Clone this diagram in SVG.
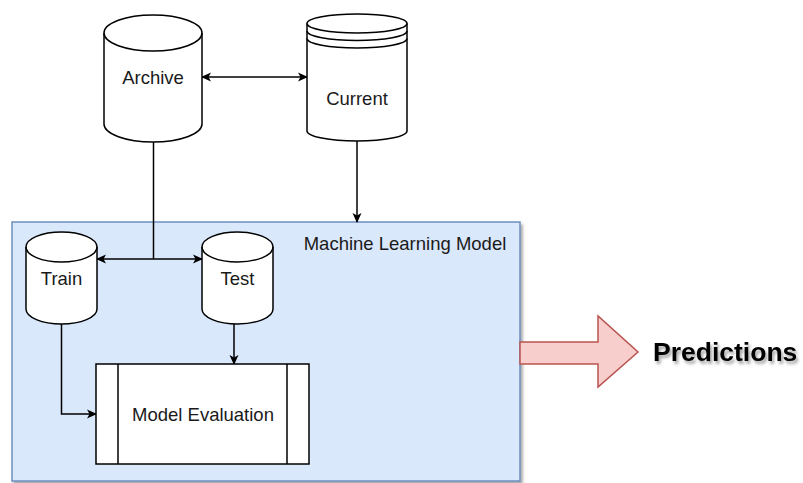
<svg xmlns="http://www.w3.org/2000/svg" width="803" height="483" viewBox="0 0 803 483">
  <defs>
    <style>
      .shape { fill: #ffffff; stroke: #000000; stroke-width: 1.5; }
      .edge { fill: none; stroke: #000000; stroke-width: 1.5; }
      .lbl { font-family: "Liberation Sans", Arial, sans-serif; font-size: 18.5px; fill: #1a1a1a; text-anchor: middle; dominant-baseline: central; }
      .big { font-family: "Liberation Sans", Arial, sans-serif; font-size: 26.5px; font-weight: bold; fill: #000000; }
    </style>
    <marker id="arrow" viewBox="0 0 10 10" refX="9" refY="5" markerWidth="10" markerHeight="10" markerUnits="userSpaceOnUse" orient="auto-start-reverse">
      <path d="M0,0.5 L10,5 L0,9.5 L2.5,5 Z" fill="#000000"/>
    </marker>
    <filter id="shadow" x="-10%" y="-10%" width="130%" height="140%">
      <feGaussianBlur in="SourceAlpha" stdDeviation="1.5"/>
      <feOffset dx="2" dy="3" result="b"/>
      <feComponentTransfer><feFuncA type="linear" slope="0.35"/></feComponentTransfer>
      <feMerge><feMergeNode/><feMergeNode in="SourceGraphic"/></feMerge>
    </filter>
  </defs>
  <rect width="803" height="483" fill="#ffffff"/>

  <!-- container -->
  <g id="ml-model">
    <rect x="12" y="222" width="508" height="259" fill="#dae8fc" stroke="#6c8ebf" stroke-width="1.5" filter="url(#shadow)"/>
    <text x="405" y="243" class="lbl">Machine Learning Model</text>
  </g>

  <!-- connectors -->
  <g id="connectors">
    <line x1="202" y1="77" x2="307" y2="77" class="edge" marker-start="url(#arrow)" marker-end="url(#arrow)"/>
    <line x1="357" y1="141" x2="357" y2="222" class="edge" marker-end="url(#arrow)"/>
    <line x1="153.5" y1="142" x2="153.5" y2="259" class="edge"/>
    <line x1="97" y1="259" x2="202" y2="259" class="edge" marker-start="url(#arrow)" marker-end="url(#arrow)"/>
    <polyline points="61.5,324 61.5,414 96,414" class="edge" marker-end="url(#arrow)"/>
    <line x1="234" y1="324" x2="234" y2="364" class="edge" marker-end="url(#arrow)"/>
  </g>

  <!-- Archive -->
  <g id="archive">
    <path class="shape" d="M104,33 A49,18 0 0 1 202,33 L202,124 A49,18 0 0 1 104,124 Z"/>
    <path class="shape" style="fill:none" d="M104,33 A49,18 0 0 0 202,33"/>
    <text x="153" y="77" class="lbl">Archive</text>
  </g>

  <!-- Current -->
  <g id="current">
    <path class="shape" d="M307,23.5 A50,9.5 0 0 1 407,23.5 L407,131 A50,10 0 0 1 307,131 Z"/>
    <path class="shape" style="fill:none" d="M307,23.5 A50,9.5 0 0 0 407,23.5 M307,31 A50,9.5 0 0 0 407,31 M307,38.5 A50,9.5 0 0 0 407,38.5"/>
    <text x="357" y="98" class="lbl">Current</text>
  </g>

  <!-- Train -->
  <g id="train">
    <path class="shape" d="M26,247 A35.5,15 0 0 1 97,247 L97,309 A35.5,15 0 0 1 26,309 Z"/>
    <path class="shape" style="fill:none" d="M26,247 A35.5,15 0 0 0 97,247"/>
    <text x="61.5" y="278" class="lbl">Train</text>
  </g>

  <!-- Test -->
  <g id="test">
    <path class="shape" d="M202,247 A35.5,15 0 0 1 273,247 L273,309 A35.5,15 0 0 1 202,309 Z"/>
    <path class="shape" style="fill:none" d="M202,247 A35.5,15 0 0 0 273,247"/>
    <text x="237.5" y="278" class="lbl">Test</text>
  </g>

  <!-- Model Evaluation -->
  <g id="model-evaluation">
    <rect x="96" y="364" width="213" height="100" class="shape"/>
    <line x1="118" y1="364" x2="118" y2="464" class="edge"/>
    <line x1="287" y1="364" x2="287" y2="464" class="edge"/>
    <text x="203" y="414" class="lbl">Model Evaluation</text>
  </g>

  <!-- Predictions -->
  <g id="predictions">
    <path d="M520,342 L598,342 L598,316 L638,352 L598,387 L598,364 L520,364 Z" fill="#f8cecc" stroke="#b85450" stroke-width="1.5"/>
    <text x="653" y="361" class="big" filter="url(#shadow)">Predictions</text>
  </g>
</svg>
